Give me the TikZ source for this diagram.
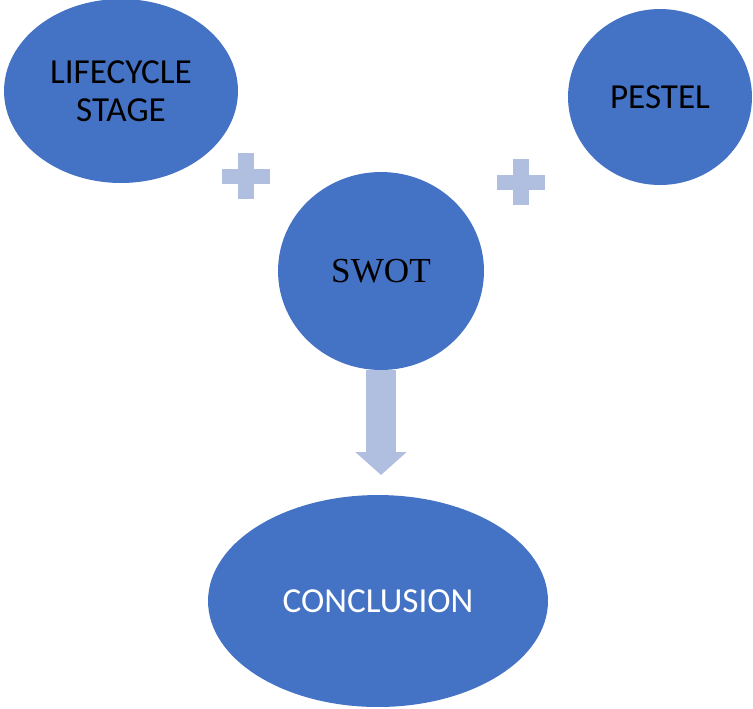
\documentclass[tikz,border=0pt]{standalone}
\usepackage{fontspec}
\setmainfont{Carlito}
\newfontfamily\swotserif{Liberation Serif}
\usepackage{tikz}
\usetikzlibrary{arrows.meta,positioning,shapes.geometric}
\definecolor{bubble}{HTML}{4472C4}
\definecolor{pale}{HTML}{B0BEE0}
\tikzset{
  blob/.style={ellipse,fill=bubble,inner sep=0pt,align=center,
    font=\fontsize{20}{21.6}\selectfont},
  plusbar/.style={fill=pale},
  fatarrow/.style={draw=pale,line width=0.6cm,-{Triangle[length=0.46cm,width=1cm]}}
}

\begin{document}
\begin{tikzpicture}[x=0.02cm,y=-0.02cm]
    \useasboundingbox (0,0) rectangle (753,708);
    \node[blob,minimum width=4.68cm,minimum height=3.68cm] (lifecycle) at (121,91) {LIFECYCLE\\STAGE};
    \node[blob,minimum width=3.68cm,minimum height=3.52cm] (pestel) at (660,97) {PESTEL};
    \node[blob,minimum width=4.12cm,minimum height=3.96cm,font=\swotserif\fontsize{20}{21.6}\selectfont] (swot) at (381,271) {SWOT};
    \node[blob,minimum width=6.8cm,minimum height=4.24cm,text=white] (conclusion) at (378,601) {CONCLUSION};
    \foreach \cx/\cy in {246/176,521/182} {
      \fill[plusbar] (\cx-24,\cy-7.5) rectangle (\cx+24,\cy+7.5);
      \fill[plusbar] (\cx-8,\cy-23) rectangle (\cx+8,\cy+23);
    }
    \coordinate (tip) at (381,475);
    \draw[fatarrow] (swot.south) -- (tip);
  \end{tikzpicture}
\end{document}
